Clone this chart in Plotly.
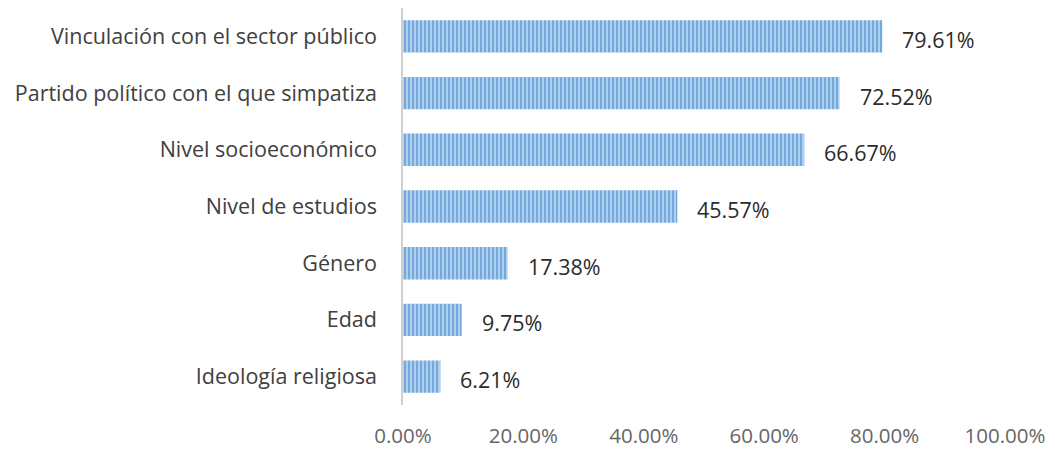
import plotly.graph_objects as go

categories = [
    "Vinculación con el sector público",
    "Partido político con el que simpatiza",
    "Nivel socioeconómico",
    "Nivel de estudios",
    "Género",
    "Edad",
    "Ideología religiosa",
]
values = [79.61, 72.52, 66.67, 45.57, 17.38, 9.75, 6.21]
tick_values = [0, 20, 40, 60, 80, 100]
tick_labels = ["0.00%", "20.00%", "40.00%", "60.00%", "80.00%", "100.00%"]

font_family = "Open Sans, Liberation Sans, sans-serif"

fig = go.Figure()
fig.add_trace(go.Bar(
    x=values,
    y=categories,
    orientation="h",
    width=0.57,
    marker=dict(
        color="#acd0f0",
        line=dict(width=0),
        pattern=dict(shape="|", fgcolor="#3f80c6", bgcolor="#acd0f0",
                     size=4, solidity=0.5),
    ),
    hoverinfo="skip",
))

for cat, v in zip(categories, values):
    fig.add_annotation(
        x=v, y=cat, text=f"{v:.2f}%", showarrow=False,
        xanchor="left", xshift=18, yshift=-3,
        font=dict(family=font_family, size=21.5, color="#2b2b2b"),
    )

fig.update_layout(
    width=1055, height=451,
    margin=dict(l=403, r=50, t=8, b=46),
    paper_bgcolor="white", plot_bgcolor="white",
    showlegend=False,
    font=dict(family=font_family, size=21, color="#404040"),
)
fig.update_xaxes(
    range=[0, 100], tickvals=tick_values, ticktext=tick_labels,
    showgrid=False, zeroline=False, showline=False,
    tickfont=dict(size=20.5, color="#666666"), ticks="",
    ticklabelstandoff=16, automargin=False,
)
fig.update_yaxes(
    categoryorder="array", categoryarray=categories[::-1],
    showgrid=False, zeroline=False,
    showline=True, linecolor="#d0d0d0", linewidth=1.5,
    ticks="", ticklabelstandoff=20, automargin=False,
    tickfont=dict(size=21.5, color="#404040"),
)

fig.write_html("out.html")
